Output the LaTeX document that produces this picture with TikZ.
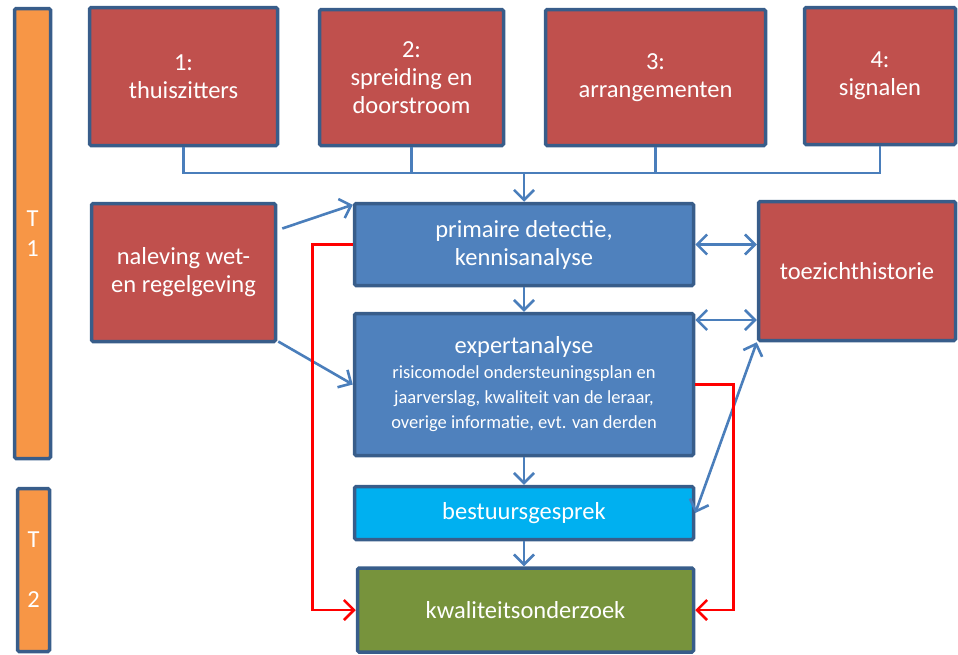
\documentclass[tikz,border=0pt]{standalone}
\usepackage{fontspec}
\setmainfont{Carlito}
\usetikzlibrary{arrows.meta}

\definecolor{boxred}{HTML}{C0504D}
\definecolor{boxblue}{HTML}{4F81BD}
\definecolor{rim}{HTML}{385D8A}
\definecolor{skyblue}{HTML}{00B0F0}
\definecolor{boxgreen}{HTML}{77933C}
\definecolor{barorange}{HTML}{F79646}
\definecolor{linkblue}{HTML}{4A7EBB}

\begin{document}
\begin{tikzpicture}[x=1pt, y=-1pt, >={Straight Barb[length=10pt,width=20pt]},
    box/.style={draw=rim, line width=3.5pt, rounded corners=1.5pt, text=white, align=center,
        inner sep=0pt, font=\fontsize{24.5}{28}\selectfont},
    redbox/.style={box, fill=boxred},
    bluebox/.style={box, fill=boxblue},
    bar/.style={box, fill=barorange, font=\fontsize{24.5}{30}\selectfont},
    flow/.style={draw=linkblue, line width=2.6pt},
    alarm/.style={draw=red, line width=2.6pt, ->}]
    \useasboundingbox (0,0) rectangle (958,654);

    % time bars
    \node[bar, minimum width=36pt, minimum height=450pt] (t1) at (32.5,233.5) {T\\1};
    \node[bar, minimum width=32pt, minimum height=163pt] (t2) at (33.5,570) {T\\[30pt]2};

    % the four themes
    \node[redbox, minimum width=188pt, minimum height=138pt] (th1) at (183.5,76.5) {1:\\thuiszitters};
    \node[redbox, minimum width=184pt, minimum height=136pt] (th2) at (411.5,77.5) {2:\\spreiding en\\doorstroom};
    \node[redbox, minimum width=220pt, minimum height=136pt] (th3) at (655.5,77.5) {3:\\arrangementen};
    \node[redbox, minimum width=151pt, minimum height=137pt] (th4) at (880,76) {4:\\signalen};

    \node[redbox, minimum width=184pt, minimum height=138pt] (wet) at (183.5,272.5) {naleving wet-\\en regelgeving};
    \node[redbox, minimum width=197pt, minimum height=139pt] (hist) at (857,271) {toezichthistorie};

    % analysis chain
    \node[bluebox, minimum width=339pt, minimum height=82pt] (detectie) at (524,244.5) {primaire detectie,\\kennisanalyse};
    \node[bluebox, minimum width=339pt, minimum height=142pt, font=\fontsize{18.5}{25}\selectfont] (expert) at (524,384.5)
        {{\fontsize{24.5}{25}\selectfont expertanalyse}\\risicomodel ondersteuningsplan en\\jaarverslag, kwaliteit van de leraar,\\overige informatie, evt. van derden};
    \node[box, fill=skyblue, minimum width=339pt, minimum height=53pt] (gesprek) at (524,513) {bestuursgesprek};
    \node[box, fill=boxgreen, minimum width=336pt, minimum height=84pt] (onderzoek) at (525.5,610) {kwaliteitsonderzoek};

    % collecting line from the themes
    \coordinate (trunk) at (524,173);
    \draw[flow] (th1.south) |- (trunk) -| (th4.south);
    \draw[flow] (th2.south) |- (trunk);
    \draw[flow] (th3.south) |- (trunk);
    \draw[flow, ->] (trunk) -- (detectie.north);

    \draw[flow, ->] ([shift={(5,-44)}]wet.east) -- ([shift={(0,3)}]detectie.north west);
    \draw[flow, ->] ([shift={(1,69)}]wet.east) -- (expert.west);

    \draw[flow, ->] (detectie.south) -- (expert.north);
    \draw[flow, ->] (expert.south) -- (gesprek.north);
    \draw[flow, ->] (gesprek.south) -- (gesprek.south |- onderzoek.north);

    \draw[flow, <->] (detectie.east) -- (detectie.east -| hist.west);
    \draw[flow, <->] (expert.east |- 0,320) -- (hist.west |- 0,320);
    \draw[flow, <->] (gesprek.east) -- (hist.south west);

    % shortcuts
    \draw[alarm] (detectie.west) -- ++(-40,0) |- (onderzoek.west);
    \draw[alarm] (expert.east) -- ++(38,0) |- (onderzoek.east);
\end{tikzpicture}
\end{document}
